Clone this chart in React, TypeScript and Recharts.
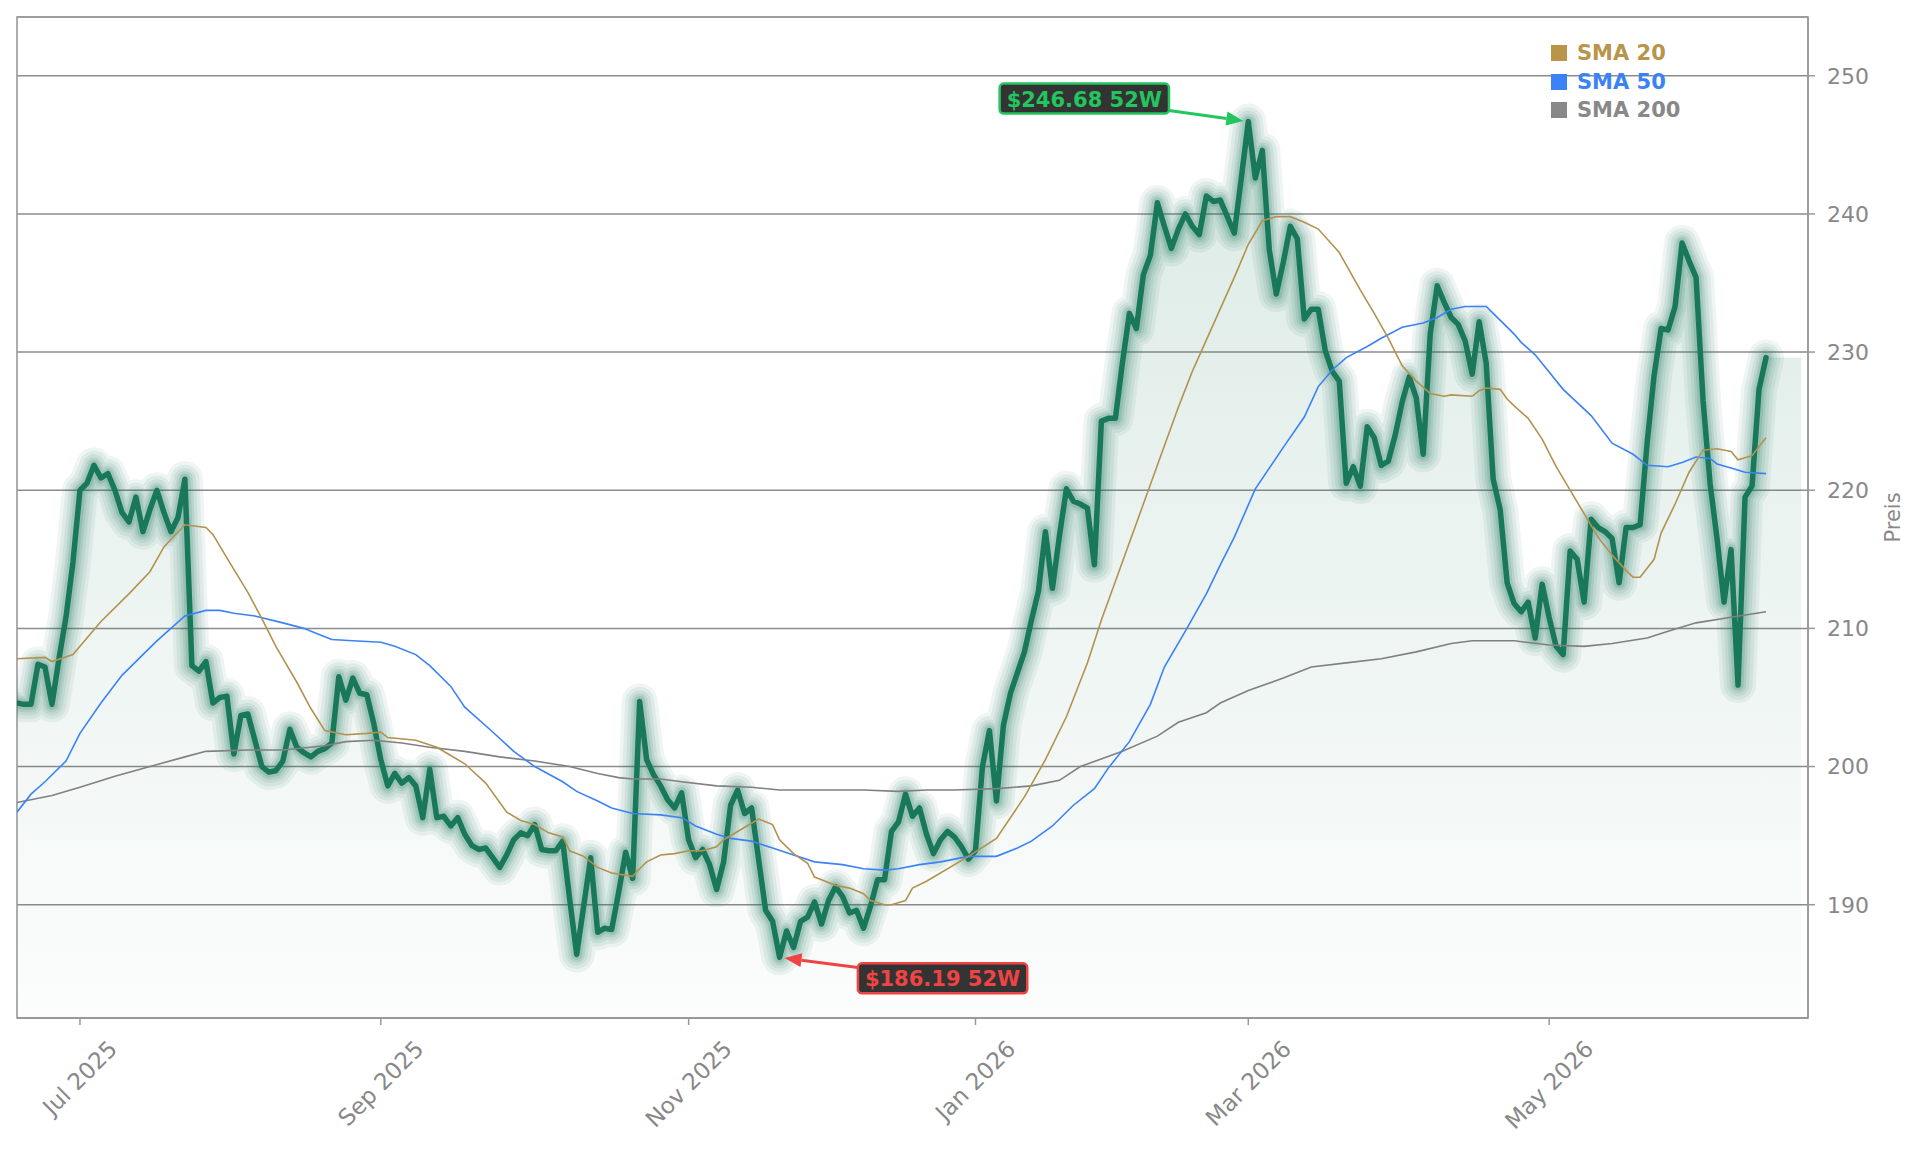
import {
  ComposedChart,
  Area,
  Line,
  XAxis,
  YAxis,
  CartesianGrid,
  ReferenceDot,
  ReferenceArea,
  Label,
} from "recharts";

// closing prices, one per trading day (Jun 17 2025 .. Jun 16 2026)
const price = [
  204.6, 204.5, 204.5, 207.4, 207.2, 204.5, 207.8, 210.8, 214.8, 220.0,
  220.5, 221.8, 220.9, 221.2, 220.0, 218.4, 217.7, 219.5, 217.0, 218.6,
  220.0, 218.4, 217.0, 218.0, 220.8, 207.3, 206.9, 207.6, 204.6, 205.0,
  205.1, 200.9, 203.7, 203.8, 201.9, 200.0, 199.6, 199.7, 200.4, 202.7,
  201.4, 201.0, 200.7, 201.1, 201.3, 201.7, 206.5, 204.8, 206.4, 205.3,
  205.2, 203.1, 200.5, 198.6, 199.5, 198.8, 199.2, 198.6, 196.3, 199.8,
  196.3, 196.4, 195.7, 196.3, 195.1, 194.3, 194.0, 194.1, 193.4, 192.7,
  193.6, 194.7, 195.2, 195.0, 195.8, 194.0, 193.9, 193.9, 194.6, 190.4,
  186.4, 189.9, 193.4, 188.0, 188.3, 188.2, 190.9, 193.8, 191.9, 204.7,
  200.5, 199.4, 198.6, 197.6, 197.0, 198.1, 194.7, 193.4, 194.0, 192.9,
  191.1, 193.1, 197.2, 198.3, 196.6, 197.0, 193.3, 189.6, 188.8, 186.19,
  188.1, 186.9, 188.8, 189.1, 190.2, 188.6, 190.3, 191.3, 190.6, 189.4,
  189.6, 188.3, 189.9, 191.8, 191.8, 195.3, 196.0, 198.0, 196.4, 197.0,
  195.1, 193.7, 194.7, 195.3, 194.9, 194.2, 193.3, 193.9, 200.0, 202.6,
  197.5, 203.0, 205.3, 206.8, 208.3, 210.6, 212.7, 217.0, 212.9, 216.7,
  220.1, 219.2, 219.0, 218.7, 214.6, 225.0, 225.2, 225.2, 229.2, 232.8,
  231.7, 235.6, 237.0, 240.8, 239.1, 237.5, 238.9, 240.0, 239.1, 238.5,
  241.3, 240.9, 241.0, 239.8, 238.6, 242.6, 246.68, 242.6, 244.6, 237.4,
  234.2, 236.5, 239.1, 238.2, 232.4, 233.1, 233.1, 230.1, 228.6, 227.9,
  220.5, 221.7, 220.3, 224.6, 223.8, 221.8, 222.1, 224.0, 226.4, 228.2,
  226.7, 222.6, 231.3, 234.8, 233.6, 232.5, 232.0, 230.8, 228.4, 232.2,
  229.2, 220.8, 218.6, 213.3, 211.8, 211.2, 211.9, 209.3, 213.2, 210.8,
  208.7, 208.1, 215.6, 215.0, 211.9, 217.9, 217.3, 217.0, 216.5, 213.3,
  217.3, 217.3, 217.5, 223.4, 228.3, 231.7, 231.6, 233.3, 237.9, 236.6,
  235.4, 226.5, 220.5, 216.5, 211.9, 215.7, 205.9, 219.5, 220.3, 227.3,
  229.6,
];

// the shaded band runs on a little past the last close
const fillTail: [number, number][] = [[250, 229.6], [255, 229.6]];

// moving averages: [day index, value]
const sma20: [number, number][] = [
  [0, 207.8], [4, 207.9], [5, 207.6], [8, 208.1], [12, 210.5], [16, 212.5],
  [19, 214.1], [21, 215.9], [24, 217.5], [27, 217.3], [28, 216.8], [30, 215.1],
  [33, 212.6], [35, 210.7], [37, 208.7], [40, 206.1], [42, 204.2], [44, 202.6],
  [47, 202.3], [50, 202.4], [52, 202.5], [53, 202.1], [57, 201.9], [60, 201.4],
  [62, 200.8], [64, 200.2], [67, 198.8], [70, 196.7], [72, 196.1], [74, 195.8],
  [76, 195.2], [78, 194.9], [79, 193.9], [81, 193.5], [83, 192.7], [85, 192.3],
  [88, 192.05], [89, 192.6], [90, 193.1], [92, 193.6], [94, 193.7], [96, 193.9],
  [98, 193.9], [100, 194.2], [101, 194.7], [103, 195.3], [105, 195.9], [106, 196.2],
  [108, 195.8], [109, 194.7], [111, 193.7], [113, 193.0], [114, 192.0], [115, 191.8],
  [117, 191.4], [119, 191.2], [121, 190.8], [122, 190.3], [124, 190.0], [125, 190.0],
  [127, 190.3], [128, 191.2], [130, 191.7], [136, 193.5], [140, 194.8], [144, 197.8],
  [147, 200.5], [150, 203.6], [153, 207.5], [155, 210.6], [158, 214.8], [161, 219.0],
  [163, 221.8], [166, 226.0], [168, 228.6], [171, 232.0], [174, 235.4], [176, 237.8],
  [178, 239.5], [180, 239.8], [182, 239.8],
  [184, 239.4], [186, 238.9], [189, 237.2], [192, 234.5], [194, 232.8], [196, 231.0],
  [198, 229.0], [200, 227.9], [202, 227.0], [204, 226.8], [205, 226.9], [208, 226.8],
  [209, 227.2], [210, 227.4], [212, 227.3], [213, 226.6], [214, 226.1], [216, 225.2],
  [218, 223.7], [220, 221.7], [222, 220.0], [224, 218.3], [226, 216.6], [228, 215.3],
  [230, 214.2], [231, 213.7], [232, 213.7], [234, 215.0], [235, 216.9], [237, 219.0],
  [239, 221.3], [241, 222.9], [243, 223.0], [245, 222.8], [246, 222.2], [248, 222.5],
  [250, 223.8],
];

const sma50: [number, number][] = [
  [0, 196.7], [2, 198.0], [4, 198.9], [7, 200.4], [9, 202.4], [12, 204.6],
  [15, 206.6], [18, 208.1], [20, 209.1], [22, 210.0], [24, 210.9], [27, 211.3],
  [29, 211.3], [31, 211.1], [34, 210.9], [38, 210.4], [41, 210.0], [43, 209.6],
  [45, 209.2], [48, 209.1], [52, 209.0], [54, 208.7], [57, 208.1], [59, 207.3],
  [62, 205.8], [64, 204.3], [68, 202.5], [71, 201.1], [74, 200.0], [78, 198.9],
  [80, 198.2], [83, 197.5], [85, 197.0], [88, 196.6], [92, 196.5], [95, 196.3],
  [97, 195.7], [100, 195.1], [102, 194.8], [105, 194.6], [108, 194.1], [111, 193.6],
  [114, 193.1], [118, 192.9], [121, 192.6], [124, 192.5], [126, 192.6], [129, 192.9],
  [132, 193.1], [136, 193.5], [140, 193.5], [143, 194.1], [145, 194.6], [148, 195.7],
  [151, 197.2], [154, 198.4], [156, 199.9], [159, 201.8], [162, 204.5], [164, 207.2],
  [167, 209.8], [170, 212.5], [172, 214.6], [174, 216.6], [177, 220.1], [181, 223.1],
  [184, 225.3], [186, 227.5], [188, 228.7], [190, 229.6], [193, 230.4], [195, 231.0],
  [198, 231.8], [201, 232.1], [203, 232.5], [205, 233.1], [207, 233.3], [210, 233.3],
  [211, 232.8], [213, 231.8], [214, 231.3], [215, 230.7], [217, 229.8], [221, 227.3],
  [225, 225.4], [228, 223.4], [231, 222.6], [233, 221.8], [236, 221.7], [238, 222.0],
  [240, 222.4], [242, 222.3], [243, 221.9], [245, 221.6], [247, 221.3], [250, 221.2],
];

const sma200: [number, number][] = [
  [0, 197.4], [5, 197.9], [9, 198.5], [14, 199.3], [19, 200.0], [24, 200.7],
  [27, 201.1], [33, 201.2], [38, 201.2], [44, 201.5], [47, 201.8], [51, 201.9],
  [55, 201.7], [59, 201.4], [64, 201.1], [69, 200.7], [74, 200.4], [79, 200.0],
  [83, 199.5], [86, 199.2], [88, 199.1], [92, 199.1], [95, 198.9], [100, 198.6],
  [105, 198.5], [109, 198.3], [112, 198.3], [116, 198.3], [121, 198.3], [126, 198.2],
  [130, 198.3], [134, 198.3], [140, 198.4], [145, 198.6], [149, 199.0], [152, 200.0],
  [158, 201.1], [163, 202.2], [166, 203.2], [170, 203.9], [172, 204.6], [176, 205.5],
  [181, 206.4], [185, 207.2], [190, 207.5], [195, 207.8], [200, 208.3], [205, 208.9],
  [208, 209.1], [212, 209.1], [214, 209.1], [219, 208.8], [224, 208.7], [228, 208.9],
  [233, 209.3], [236, 209.8], [240, 210.4], [245, 210.8], [250, 211.2],
];

const monthTicks = [9, 52, 96, 137, 176, 219];
const monthLabels = ["Jul 2025", "Sep 2025", "Nov 2025", "Jan 2026", "Mar 2026", "May 2026"];
const priceTicks = [190, 200, 210, 220, 230, 240, 250];

const high52 = { index: 176, value: 246.68, label: "$246.68 52W" };
const low52 = { index: 109, value: 186.19, label: "$186.19 52W" };

const GREEN = "#19785a";
const FONT = "DejaVu Sans";

type Row = {
  i: number;
  price: number | null;
  tail: number | null;
  sma20: number | null;
  sma50: number | null;
  sma200: number | null;
};

const rows: Row[] = price.map((p, i) => ({ i, price: p, tail: null, sma20: null, sma50: null, sma200: null }));
fillTail.forEach(([i, v]) => {
  if (!rows[i]) rows[i] = { i, price: null, tail: null, sma20: null, sma50: null, sma200: null };
  rows[i].tail = v;
});
sma20.forEach(([i, v]) => (rows[i].sma20 = v));
sma50.forEach(([i, v]) => (rows[i].sma50 = v));
sma200.forEach(([i, v]) => (rows[i].sma200 = v));
const chartRows = rows.filter(Boolean);

let ctx: CanvasRenderingContext2D | null = null;
const textWidth = (s: string, font: string) => {
  if (!ctx) ctx = document.createElement("canvas").getContext("2d");
  if (!ctx) return s.length * 12;
  ctx.font = font;
  return ctx.measureText(s).width;
};

const MonthTick = (props: any) => {
  const { x, y, payload } = props;
  const k = monthTicks.indexOf(payload.value);
  const label = k >= 0 ? monthLabels[k] : "";
  const w = textWidth(label, `23px "${FONT}"`);
  const cy = y + 13 + (w + 19) / (2 * Math.SQRT2);
  return (
    <text
      transform={`translate(${x},${cy}) rotate(-45)`}
      textAnchor="middle"
      dominantBaseline="central"
      fill="#888"
      fontSize={23}
      fontFamily={FONT}
    >
      {label}
    </text>
  );
};

const renderPreis = (props: any) => {
  const vb = props.viewBox || {};
  const x = vb.x + 85;
  const y = vb.y + vb.height / 2;
  return (
    <text
      transform={`translate(${x},${y}) rotate(-90)`}
      textAnchor="middle"
      dominantBaseline="central"
      fill="#888"
      fontSize={21}
      fontFamily={FONT}
    >
      Preis
    </text>
  );
};

// box + arrow, offset from the marked point like an "offset points" annotation
const callout = (label: string, color: string, dx: number, dy: number) => (props: any) => {
  const { cx, cy } = props;
  const w = textWidth(label, `bold 21px "${FONT}"`) + 14;
  const h = 30;
  const bx = cx + dx;
  const by = cy + dy;
  const vx = cx - bx;
  const vy = cy - by;
  const t = Math.min(w / 2 / Math.abs(vx), h / 2 / Math.abs(vy));
  const sx = bx + vx * t;
  const sy = by + vy * t;
  const len = Math.hypot(vx, vy);
  const ux = vx / len;
  const uy = vy / len;
  const ex = cx - ux * 5;
  const ey = cy - uy * 5;
  const hx = ex - ux * 17;
  const hy = ey - uy * 17;
  const head = `${ex},${ey} ${hx - uy * 7},${hy + ux * 7} ${hx + uy * 7},${hy - ux * 7}`;
  return (
    <g>
      <line x1={sx} y1={sy} x2={hx} y2={hy} stroke={color} strokeWidth={3} />
      <polygon points={head} fill={color} />
      <rect x={bx - w / 2} y={by - h / 2} width={w} height={h} rx={4} fill="#333" stroke={color} strokeWidth={2.5} />
      <text
        x={bx}
        y={by + 1}
        textAnchor="middle"
        dominantBaseline="central"
        fill={color}
        fontSize={21}
        fontWeight="bold"
        fontFamily={FONT}
      >
        {label}
      </text>
    </g>
  );
};

// halo around the close line, widest and faintest first
const glow = [
  { w: 36, o: 0.07 },
  { w: 29, o: 0.08 },
  { w: 22, o: 0.09 },
  { w: 16, o: 0.11 },
  { w: 11, o: 0.15 },
];

const legendItems = [
  { name: "SMA 20", color: "#b8954a" },
  { name: "SMA 50", color: "#3b82f6" },
  { name: "SMA 200", color: "#888888" },
];

const App = () => {
  return (
    <div style={{ position: "relative", width: 1905, height: 1137, fontFamily: FONT }}>
      <ComposedChart
        width={1905}
        height={1137}
        data={chartRows}
        margin={{ top: 9, right: 25, left: 9, bottom: 27 }}
      >
        <defs>
          <linearGradient id="priceFill" gradientUnits="userSpaceOnUse" x1="0" y1="9" x2="0" y2="1010">
            <stop offset="0%" stopColor={GREEN} stopOpacity={0.17} />
            <stop offset="100%" stopColor={GREEN} stopOpacity={0.015} />
          </linearGradient>
        </defs>
        <CartesianGrid vertical={false} stroke="#8c8c8c" strokeWidth={1.5} />
        <XAxis
          dataKey="i"
          type="number"
          domain={[0, 256]}
          ticks={monthTicks}
          allowDataOverflow
          interval={0}
          tick={<MonthTick />}
          tickSize={7}
          tickMargin={0}
          height={100}
          axisLine={{ stroke: "#999", strokeWidth: 1.6 }}
          tickLine={{ stroke: "#999", strokeWidth: 1.5 }}
        />
        <YAxis
          orientation="right"
          type="number"
          domain={[181.8, 254.25]}
          ticks={priceTicks}
          allowDataOverflow
          width={80}
          tickSize={7}
          tickMargin={12}
          tick={{ fill: "#888", fontSize: 22, fontFamily: FONT }}
          axisLine={{ stroke: "#999", strokeWidth: 1.6 }}
          tickLine={{ stroke: "#999", strokeWidth: 1.5 }}
        >
          <Label content={renderPreis} />
        </YAxis>
        <Area
          dataKey="price"
          stroke="none"
          fill="url(#priceFill)"
          fillOpacity={1}
          isAnimationActive={false}
          activeDot={false}
        />
        <Area
          dataKey="tail"
          stroke="none"
          fill="url(#priceFill)"
          fillOpacity={1}
          connectNulls
          isAnimationActive={false}
          activeDot={false}
        />
        {glow.map((g) => (
          <Line
            key={g.w}
            dataKey="price"
            stroke={GREEN}
            strokeWidth={g.w}
            strokeOpacity={g.o}
            strokeLinejoin="round"
            strokeLinecap="round"
            dot={false}
            activeDot={false}
            isAnimationActive={false}
          />
        ))}
        <Line
          dataKey="price"
          stroke={GREEN}
          strokeWidth={5.5}
          strokeLinejoin="round"
          strokeLinecap="round"
          dot={false}
          activeDot={false}
          isAnimationActive={false}
        />
        <Line dataKey="sma200" stroke="#808080" strokeWidth={1.6} connectNulls dot={false} activeDot={false} isAnimationActive={false} />
        <Line dataKey="sma50" stroke="#3b82f6" strokeWidth={1.6} connectNulls dot={false} activeDot={false} isAnimationActive={false} />
        <Line dataKey="sma20" stroke="#b3924f" strokeWidth={1.6} connectNulls dot={false} activeDot={false} isAnimationActive={false} />
        <ReferenceArea
          x1={0}
          x2={256}
          y1={181.8}
          y2={254.25}
          fill="none"
          stroke="#999"
          strokeWidth={1.6}
          ifOverflow="visible"
        />
        <ReferenceDot
          x={high52.index}
          y={high52.value}
          ifOverflow="visible"
          shape={callout(high52.label, "#22c55e", -164, -23)}
        />
        <ReferenceDot
          x={low52.index}
          y={low52.value}
          ifOverflow="visible"
          shape={callout(low52.label, "#ef4444", 163, 21)}
        />
      </ComposedChart>
      {legendItems.map((it, k) => (
        <div
          key={it.name}
          style={{
            position: "absolute",
            left: 1543,
            top: 31 + k * 28.5,
            height: 28,
            display: "flex",
            alignItems: "center",
            color: it.color,
            fontWeight: "bold",
            fontSize: 21,
          }}
        >
          <span style={{ width: 16, height: 16, background: it.color, marginRight: 10, display: "inline-block" }} />
          {it.name}
        </div>
      ))}
    </div>
  );
};

export default App;
